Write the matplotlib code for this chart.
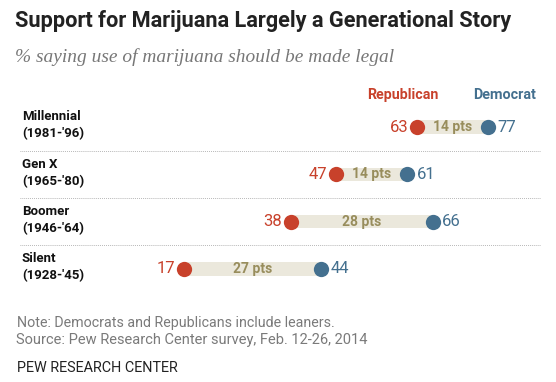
import matplotlib
matplotlib.use("Agg")
import matplotlib.pyplot as plt
from matplotlib.patches import Rectangle

generations = ["Millennial", "Gen X", "Boomer", "Silent"]
years = ["(1981-'96)", "(1965-'80)", "(1946-'64)", "(1928-'45)"]
republican = [63, 47, 38, 17]
democrat = [77, 61, 66, 44]

W, H = 556, 382
RED = "#c8412b"
BLUE = "#44708f"
BAR = "#ebe8dc"
PTS = "#988d5c"
SANS = "Roboto"

fig = plt.figure(figsize=(W / 100, H / 100), dpi=100)
fig.patch.set_facecolor("white")
ax = fig.add_axes([0, 0, 1, 1])
ax.set_facecolor("none")
ppx = 5.07
x0 = 98
ax.set_xlim(-x0 / ppx, (W - x0) / ppx)
row0, step = 127, 47.3
ax.set_ylim((H - row0) / step, -row0 / step)
ax.axis("off")

def fy(py):
    return 1 - py / H

def fx(px):
    return px / W

to_fit = []

def ftext(px, py, s, width=None, **kw):
    t = fig.text(fx(px), fy(py), s, **kw)
    if width is not None:
        to_fit.append((t, width))
    return t

ftext(15, 21, "Support for Marijuana Largely a Generational Story", width=500,
      fontsize=15, fontweight="bold", color="#222222", va="center", ha="left",
      family=SANS)
ftext(15, 57, "% saying use of marijuana should be made legal", width=378,
      fontsize=11, style="italic", color="#777777", va="center", ha="left",
      family=["Liberation Serif", "DejaVu Serif"])

ftext(403, 95, "Republican", width=71, fontsize=10.5, fontweight="bold",
      color=RED, ha="center", va="center", family=SANS)
ftext(505, 95, "Democrat", width=63, fontsize=10.5, fontweight="bold",
      color=BLUE, ha="center", va="center", family=SANS)

for i, (g, yr, r, d) in enumerate(zip(generations, years, republican, democrat)):
    py = row0 + step * i
    ftext(22, py - 10, g, fontsize=9.5, fontweight="bold",
          color="#111111", ha="left", va="center", family=SANS)
    ftext(22, py + 7, yr, fontsize=9.5, fontweight="bold",
          color="#111111", ha="left", va="center", family=SANS)
    ax.add_patch(Rectangle((r, i - 0.14), d - r, 0.28, facecolor=BAR,
                           edgecolor="none", zorder=1))
    ax.plot([r], [i], "o", color=RED, markersize=11, zorder=3, markeredgewidth=0)
    ax.plot([d], [i], "o", color=BLUE, markersize=11, zorder=3, markeredgewidth=0)
    ax.text(r - 1.8, i, f"{r}", color=RED, fontsize=12, ha="right", va="center",
            family=SANS)
    ax.text(d + 1.8, i, f"{d}", color=BLUE, fontsize=12, ha="left", va="center",
            family=SANS)
    ax.text((r + d) / 2, i, f"{d - r} pts", color=PTS, fontsize=10,
            fontweight="bold", ha="center", va="center", zorder=2, family=SANS)
    if i < len(generations) - 1:
        ax.plot([-15.4, 87.2], [i + 0.5, i + 0.5], color="#a8a8a8",
                linestyle=(0, (0.8, 1.2)), linewidth=0.7, zorder=0)

ftext(17, 323, "Note: Democrats and Republicans include leaners.", width=320,
      fontsize=9, color="#7a7a7a", ha="left", va="center", family=SANS)
ftext(16, 340, "Source: Pew Research Center survey, Feb. 12-26, 2014", width=352,
      fontsize=9.2, color="#7a7a7a", ha="left", va="center", family=SANS)
ftext(17, 368, "PEW RESEARCH CENTER", width=163, fontsize=10.5, color="#222222",
      ha="left", va="center", family=SANS)

fig.canvas.draw()
renderer = fig.canvas.get_renderer()
for t, wpx in to_fit:
    cur = t.get_window_extent(renderer).width
    if cur > 0:
        t.set_fontsize(t.get_fontsize() * wpx / cur)

fig.savefig("out.png", dpi=100, facecolor="white")
